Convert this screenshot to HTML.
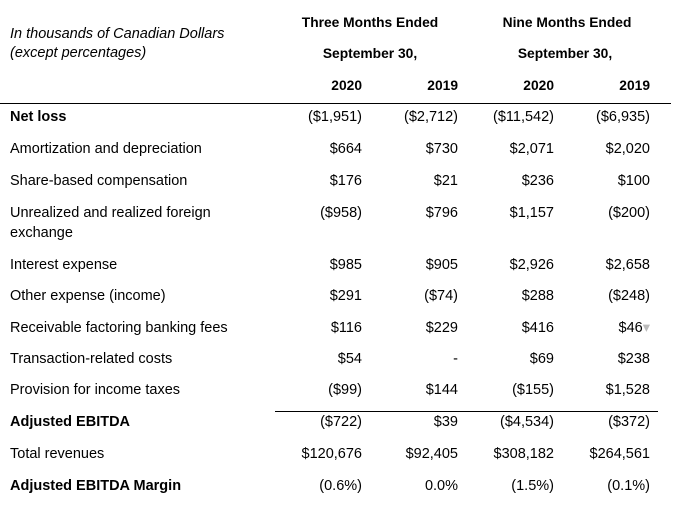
<!DOCTYPE html>
<html><head><meta charset="utf-8"><style>
body{margin:0;width:683px;height:521px;background:#fff;position:relative;font-family:"Liberation Sans",sans-serif;font-size:14.5px;color:#000;overflow:hidden}
.t{position:absolute;white-space:nowrap;line-height:17px}
.r{position:absolute;white-space:nowrap;line-height:17px;text-align:right;width:120px}
.b{font-weight:bold}
.i{font-style:italic}
.c{position:absolute;white-space:nowrap;line-height:17px;text-align:center;width:200px;font-weight:bold;font-size:13.8px}
.h{font-size:13.8px}
.line{position:absolute;height:1px;background:#000}
#m{position:absolute;left:0;top:2px;width:683px;height:521px}
</style></head><body>
<div class="t i" style="left:10px;top:26px">In thousands of Canadian Dollars</div>
<div class="t i" style="left:10px;top:45px">(except percentages)</div>
<div class="c" style="left:270px;top:14px">Three Months Ended</div>
<div class="c" style="left:467px;top:14px">Nine Months Ended</div>
<div class="c" style="left:270px;top:45px">September 30,</div>
<div class="c" style="left:465px;top:45px">September 30,</div>
<div class="r b h" style="left:242px;top:77px">2020</div>
<div class="r b h" style="left:338px;top:77px">2019</div>
<div class="r b h" style="left:434px;top:77px">2020</div>
<div class="r b h" style="left:530px;top:77px">2019</div>
<div class="line" style="left:0;top:103px;width:671px"></div>
<div class="line" style="left:275px;top:411px;width:383px"></div>
<div id="m">
<div class="t b" style="left:10px;top:107px">Net loss</div>
<div class="t" style="left:10px;top:139px">Amortization and depreciation</div>
<div class="t" style="left:10px;top:171px">Share-based compensation</div>
<div class="t" style="left:10px;top:203px">Unrealized and realized foreign</div>
<div class="t" style="left:10px;top:223px">exchange</div>
<div class="t" style="left:10px;top:255px">Interest expense</div>
<div class="t" style="left:10px;top:286px">Other expense (income)</div>
<div class="t" style="left:10px;top:318px">Receivable factoring banking fees</div>
<div class="t" style="left:10px;top:349px">Transaction-related costs</div>
<div class="t" style="left:10px;top:380px">Provision for income taxes</div>
<div class="t b" style="left:10px;top:412px">Adjusted EBITDA</div>
<div class="t" style="left:10px;top:444px">Total revenues</div>
<div class="t b" style="left:10px;top:476px">Adjusted EBITDA Margin</div>

<div class="r" style="left:242px;top:107px">($1,951)</div><div class="r" style="left:338px;top:107px">($2,712)</div><div class="r" style="left:434px;top:107px">($11,542)</div><div class="r" style="left:530px;top:107px">($6,935)</div>
<div class="r" style="left:242px;top:139px">$664</div><div class="r" style="left:338px;top:139px">$730</div><div class="r" style="left:434px;top:139px">$2,071</div><div class="r" style="left:530px;top:139px">$2,020</div>
<div class="r" style="left:242px;top:171px">$176</div><div class="r" style="left:338px;top:171px">$21</div><div class="r" style="left:434px;top:171px">$236</div><div class="r" style="left:530px;top:171px">$100</div>
<div class="r" style="left:242px;top:203px">($958)</div><div class="r" style="left:338px;top:203px">$796</div><div class="r" style="left:434px;top:203px">$1,157</div><div class="r" style="left:530px;top:203px">($200)</div>
<div class="r" style="left:242px;top:255px">$985</div><div class="r" style="left:338px;top:255px">$905</div><div class="r" style="left:434px;top:255px">$2,926</div><div class="r" style="left:530px;top:255px">$2,658</div>
<div class="r" style="left:242px;top:286px">$291</div><div class="r" style="left:338px;top:286px">($74)</div><div class="r" style="left:434px;top:286px">$288</div><div class="r" style="left:530px;top:286px">($248)</div>
<div class="r" style="left:242px;top:318px">$116</div><div class="r" style="left:338px;top:318px">$229</div><div class="r" style="left:434px;top:318px">$416</div><div class="r" style="left:530px;top:318px">$46<span style="color:#bbb">&#9662;</span></div>
<div class="r" style="left:242px;top:349px">$54</div><div class="r" style="left:338px;top:349px">-</div><div class="r" style="left:434px;top:349px">$69</div><div class="r" style="left:530px;top:349px">$238</div>
<div class="r" style="left:242px;top:380px">($99)</div><div class="r" style="left:338px;top:380px">$144</div><div class="r" style="left:434px;top:380px">($155)</div><div class="r" style="left:530px;top:380px">$1,528</div>
<div class="r" style="left:242px;top:412px">($722)</div><div class="r" style="left:338px;top:412px">$39</div><div class="r" style="left:434px;top:412px">($4,534)</div><div class="r" style="left:530px;top:412px">($372)</div>
<div class="r" style="left:242px;top:444px">$120,676</div><div class="r" style="left:338px;top:444px">$92,405</div><div class="r" style="left:434px;top:444px">$308,182</div><div class="r" style="left:530px;top:444px">$264,561</div>
<div class="r" style="left:242px;top:476px">(0.6%)</div><div class="r" style="left:338px;top:476px">0.0%</div><div class="r" style="left:434px;top:476px">(1.5%)</div><div class="r" style="left:530px;top:476px">(0.1%)</div>
</div>
</body></html>
